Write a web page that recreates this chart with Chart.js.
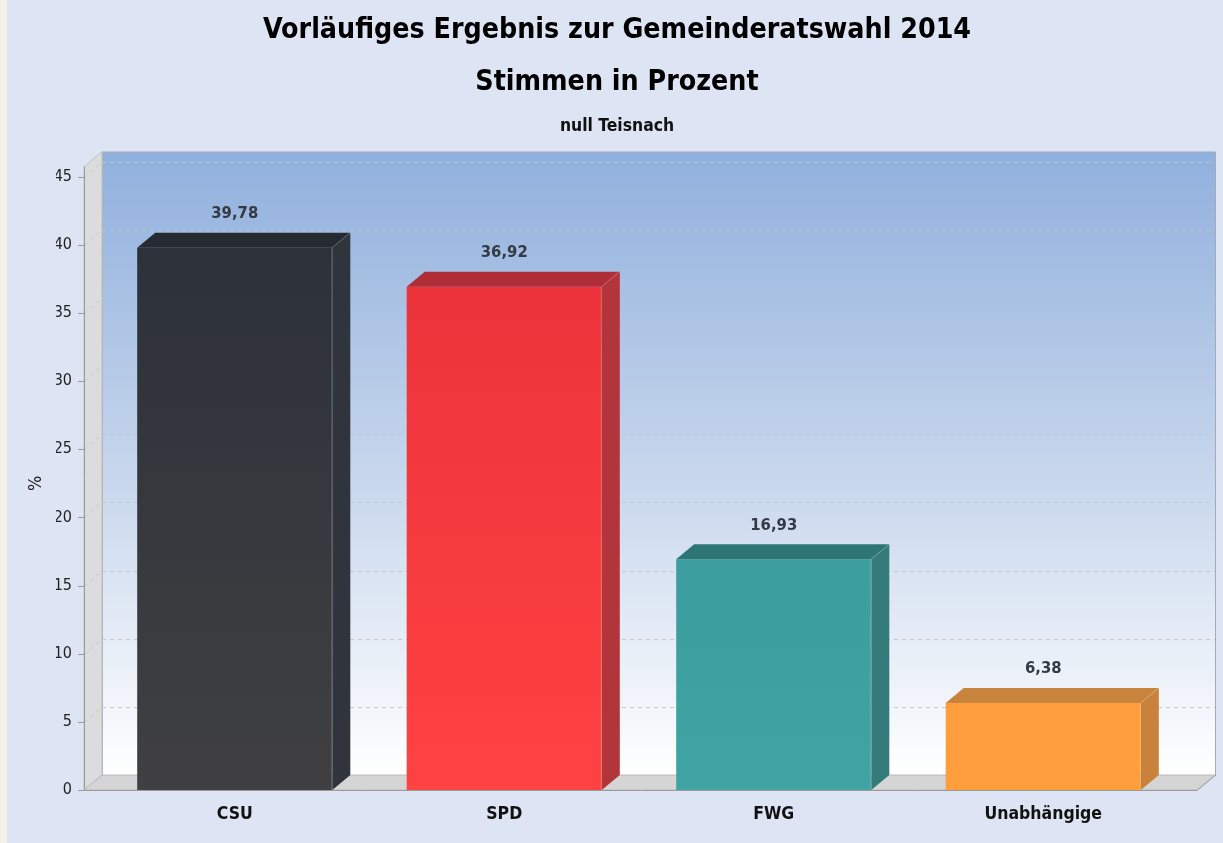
<!DOCTYPE html>
<html>
<head>
<meta charset="utf-8">
<script src="https://cdn.jsdelivr.net/npm/chart.js@4.4.1/dist/chart.umd.min.js"></script>
<style>
  html, body { margin: 0; padding: 0; background: #dde4f3; }
  #wrap { width: 1223px; height: 843px; }
</style>
</head>
<body>
<div id="wrap"><canvas id="chart" width="1223" height="843"></canvas></div>
<script>
// Daten
const categories = ['CSU', 'SPD', 'FWG', 'Unabhängige'];
const shares = [39.78, 36.92, 16.93, 6.38];
const valueLabels = ['39,78', '36,92', '16,93', '6,38'];
const yTicks = [0, 5, 10, 15, 20, 25, 30, 35, 40, 45];

// Farben je Partei: [oben, unten, Deckel, Seite]
const partyColors = [
    ['#2a2f38', '#404042', '#262a33', '#30343c'],
    ['#e8303a', '#ff4242', '#b02e38', '#b3353c'],
    ['#349494', '#40a4a4', '#2e7676', '#357b7b'],
    ['#ffa03e', '#fe9e3c', '#c8843c', '#c9823c']
];

const FONT = "'Liberation Sans Narrow', 'Arial Narrow', 'DejaVu Sans Condensed', sans-serif";
const DX = 18, DY = -15;     // Tiefe der 3D-Darstellung
const FRONT_LEFT = 84;       // vordere Kante der linken Wand

function barGradient(context) {
    var chart = context.chart;
    var area = chart.chartArea;
    var c = partyColors[context.dataIndex];
    if (!area) return c[0];
    var g = chart.ctx.createLinearGradient(0, area.top, 0, area.bottom);
    g.addColorStop(0, c[0]);
    g.addColorStop(1, c[1]);
    return g;
}

const plot3d = {
    id: 'plot3d',
    beforeDraw(chart) {
        var ctx = chart.ctx;
        ctx.save();
        ctx.fillStyle = '#dde4f3';
        ctx.fillRect(0, 0, chart.width, chart.height);
        ctx.fillStyle = '#f2f2ea';
        ctx.fillRect(0, 0, 7, chart.height);
        ctx.restore();
    },
    beforeDatasetsDraw(chart) {
        var ctx = chart.ctx;
        var y = chart.scales.y;
        var area = chart.chartArea;
        var fl = FRONT_LEFT, fr = area.right + 19;
        var y0 = y.getPixelForValue(0);
        var yTop = y.getPixelForValue(45) - 10;
        ctx.save();

        // Rückwand
        var g = ctx.createLinearGradient(0, yTop + DY, 0, y0 + DY);
        g.addColorStop(0, '#90b0dd');
        g.addColorStop(0.5, '#c5d5ec');
        g.addColorStop(1, '#ffffff');
        ctx.fillStyle = g;
        ctx.fillRect(fl + DX, yTop + DY, fr - fl, y0 - yTop);
        ctx.strokeStyle = '#a3abb8';
        ctx.lineWidth = 1;
        ctx.strokeRect(fl + DX + 0.5, yTop + DY + 0.5, fr - fl, y0 - yTop);

        // linke Wand
        ctx.beginPath();
        ctx.moveTo(fl, y0);
        ctx.lineTo(fl, yTop);
        ctx.lineTo(fl + DX, yTop + DY);
        ctx.lineTo(fl + DX, y0 + DY);
        ctx.closePath();
        ctx.fillStyle = '#dcdcdc';
        ctx.fill();
        ctx.strokeStyle = '#c0c0c0';
        ctx.stroke();

        // Boden
        ctx.beginPath();
        ctx.moveTo(fl, y0);
        ctx.lineTo(fl + DX, y0 + DY);
        ctx.lineTo(fr + DX, y0 + DY);
        ctx.lineTo(fr, y0);
        ctx.closePath();
        ctx.fillStyle = '#d5d5d5';
        ctx.fill();
        ctx.strokeStyle = '#bdbdbd';
        ctx.stroke();

        // Gitterlinien
        ctx.setLineDash([4, 4]);
        ctx.strokeStyle = 'rgba(190,196,206,0.9)';
        yTicks.forEach(function(v) {
            var py = Math.round(y.getPixelForValue(v)) + 0.5;
            ctx.beginPath();
            ctx.moveTo(fl + DX, py + DY);
            ctx.lineTo(fr + DX, py + DY);
            ctx.stroke();
            ctx.beginPath();
            ctx.moveTo(fl, py);
            ctx.lineTo(fl + DX, py + DY);
            ctx.stroke();
        });
        ctx.setLineDash([]);

        // Achsen und Striche
        ctx.strokeStyle = '#9a9a9a';
        ctx.beginPath();
        ctx.moveTo(fl + 0.5, yTop);
        ctx.lineTo(fl + 0.5, y0 + 0.5);
        ctx.lineTo(fr, y0 + 0.5);
        ctx.lineTo(fr + DX, y0 + DY + 0.5);
        ctx.stroke();
        yTicks.forEach(function(v) {
            var py = Math.round(y.getPixelForValue(v)) + 0.5;
            ctx.beginPath();
            ctx.moveTo(fl - 6, py);
            ctx.lineTo(fl, py);
            ctx.stroke();
        });
        ctx.restore();
    },
    afterDatasetsDraw(chart) {
        var ctx = chart.ctx;
        var meta = chart.getDatasetMeta(0);
        ctx.save();
        meta.data.forEach(function(bar, i) {
            var c = partyColors[i];
            var l = bar.x - bar.width / 2, r = bar.x + bar.width / 2;
            var t = bar.y, b = bar.base;
            // Deckel
            ctx.beginPath();
            ctx.moveTo(l, t);
            ctx.lineTo(l + DX, t + DY);
            ctx.lineTo(r + DX, t + DY);
            ctx.lineTo(r, t);
            ctx.closePath();
            ctx.fillStyle = c[2];
            ctx.fill();
            // Seite
            ctx.beginPath();
            ctx.moveTo(r, t);
            ctx.lineTo(r + DX, t + DY);
            ctx.lineTo(r + DX, b + DY);
            ctx.lineTo(r, b);
            ctx.closePath();
            ctx.fillStyle = c[3];
            ctx.fill();
            // helle Kanten
            ctx.strokeStyle = 'rgba(255,255,255,0.18)';
            ctx.lineWidth = 1;
            ctx.beginPath();
            ctx.moveTo(r - 0.5, b);
            ctx.lineTo(r - 0.5, t);
            ctx.lineTo(r + DX - 0.5, t + DY);
            ctx.stroke();

            // Wertbeschriftung
            ctx.fillStyle = '#343944';
            ctx.font = 'bold 16.5px ' + FONT;
            ctx.textAlign = 'center';
            ctx.textBaseline = 'middle';
            ctx.fillText(valueLabels[i], bar.x, t + DY - 19);
        });
        ctx.restore();
    }
};

new Chart(document.getElementById('chart'), {
    type: 'bar',
    data: {
        labels: categories,
        datasets: [{
            label: 'Stimmen in Prozent',
            data: shares,
            backgroundColor: barGradient,
            borderWidth: 0,
            barPercentage: 0.724,
            categoryPercentage: 1
        }]
    },
    options: {
        responsive: false,
        animation: false,
        layout: { padding: { left: 56, right: 45, top: 0, bottom: 0 } },
        plugins: {
            legend: { display: false },
            tooltip: { enabled: false },
            title: {
                display: true,
                text: ['Vorläufiges Ergebnis zur Gemeinderatswahl 2014', 'Stimmen in Prozent'],
                color: '#000',
                font: { family: FONT, size: 28.3, weight: 'bold', lineHeight: 1.85 },
                padding: { top: 4, bottom: 0 }
            },
            subtitle: {
                display: true,
                text: 'null Teisnach',
                color: '#111',
                font: { family: FONT, size: 17.4, weight: 'bold', lineHeight: 1.2 },
                padding: { top: 7.6, bottom: 39.5 }
            }
        },
        scales: {
            x: {
                grid: { display: false, drawTicks: false },
                border: { display: false },
                ticks: {
                    color: '#111',
                    font: { family: FONT, size: 17.5, weight: 'bold' },
                    padding: 14
                },
                afterFit(scale) { scale.height = 53; }
            },
            y: {
                min: 0,
                max: 45,
                grid: { display: false, drawTicks: false },
                border: { display: false },
                ticks: {
                    stepSize: 5,
                    color: '#222',
                    font: { family: FONT, size: 16 },
                    padding: 28
                },
                title: {
                    display: true,
                    text: '%',
                    color: '#222',
                    font: { family: FONT, size: 18 },
                    padding: { top: -30, bottom: 0 }
                },
                afterFit(scale) { scale.width = 44; }
            }
        }
    },
    plugins: [plot3d]
});
</script>
</body>
</html>
